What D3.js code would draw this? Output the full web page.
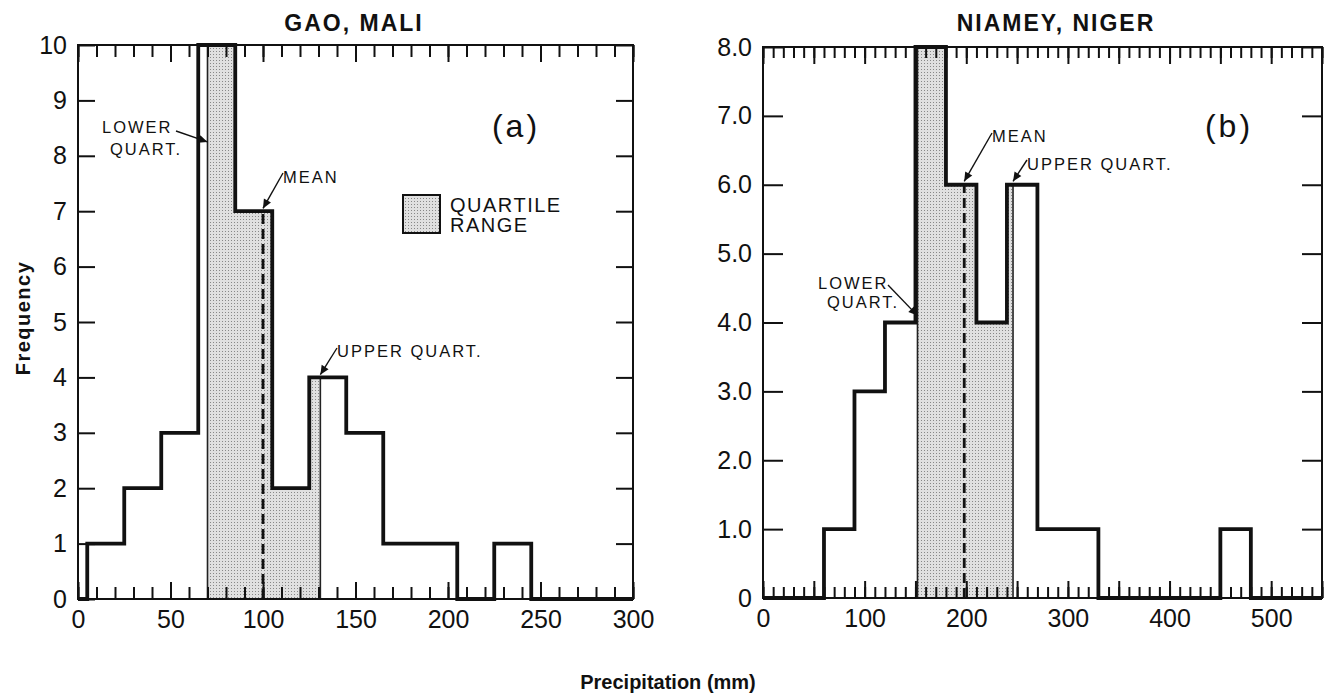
<!DOCTYPE html>
<html><head><meta charset="utf-8">
<script src="https://cdn.jsdelivr.net/npm/d3@7"></script>
<style>body{margin:0;background:#fff}svg{display:block}</style>
</head><body><svg id="chart" width="1327" height="693"></svg>
<script>
// ---- Data: Gao, Mali (panel a) ----
const gaoEdges = [5,25,45,65,85,105,125,145,165,185,205,225,245];
const gaoCounts = [1,2,3,10,7,2,4,3,1,1,0,1];
const gaoQuartiles = [70,131];
const gaoMean = 100;
const gaoYTicks = [0,1,2,3,4,5,6,7,8,9,10];
const gaoXLabels = [0,50,100,150,200,250,300];

// ---- Data: Niamey, Niger (panel b) ----
const niameyEdges = [60,90,120,150,180,210,240,270,300,330,360,390,420,450,480];
const niameyCounts = [1,3,4,8,6,4,6,1,1,0,0,0,0,1];
const niameyQuartiles = [152,246];
const niameyMean = 198;
const niameyYTicks = [0,1,2,3,4,5,6,7,8];
const niameyXLabels = [0,100,200,300,400,500];

const FONT = '"Liberation Sans", Arial, sans-serif';
const svg = d3.select('#chart');
const defs = svg.append('defs');
const pat = defs.append('pattern').attr('id','dots').attr('width',3).attr('height',3).attr('patternUnits','userSpaceOnUse');
pat.append('rect').attr('width',3).attr('height',3).attr('fill','#e0e0e0');
pat.append('rect').attr('width',1).attr('height',1).attr('fill','#888');
defs.append('marker').attr('id','arr').attr('viewBox','0 0 10 10').attr('refX',10).attr('refY',5)
  .attr('markerWidth',13).attr('markerHeight',9).attr('markerUnits','userSpaceOnUse').attr('orient','auto')
  .append('path').attr('d','M0,0.5 L10,5 L0,9.5 z').attr('fill','#111');

function drawPanel(c){
  const x = d3.scaleLinear().domain(c.xDomain).range(c.xRange);
  const y = d3.scaleLinear().domain(c.yDomain).range(c.yRange);
  const g = svg.append('g');
  const f = v => { for(let i=0;i<c.counts.length;i++){ if(v>=c.edges[i] && v<c.edges[i+1]) return c.counts[i]; } return 0; };
  // shaded quartile range
  const [q1,q2] = c.quartiles;
  const sx = [q1, ...c.edges.filter(e=>e>q1 && e<q2), q2];
  const sp = sx.map((v,i)=>[v, i===sx.length-1 ? f(q2-1e-6) : f(v)]);
  g.append('path').attr('d', d3.area().x(d=>x(d[0])).y0(y(0)).y1(d=>y(d[1])).curve(d3.curveStepAfter)(sp))
    .attr('fill','url(#dots)');
  [q1,q2].forEach(q=>{
    g.append('line').attr('x1',x(q)).attr('x2',x(q)).attr('y1',y(0)).attr('y2',y(Math.max(f(q),f(q-1e-6))))
      .attr('stroke','#222').attr('stroke-width',1.6);
  });
  // mean dashed line
  g.append('line').attr('x1',x(c.mean)).attr('x2',x(c.mean)).attr('y1',y(0)).attr('y2',y(f(c.mean)))
    .attr('stroke','#111').attr('stroke-width',2.8).attr('stroke-dasharray','10,5');
  // frame
  g.append('rect').attr('x',c.xRange[0]).attr('y',c.yRange[1]).attr('width',c.xRange[1]-c.xRange[0])
    .attr('height',c.yRange[0]-c.yRange[1]).attr('fill','none').attr('stroke','#111').attr('stroke-width',2);
  // axes ticks
  const minor = d3.range(c.xDomain[0], c.xDomain[1]+0.001, 10);
  const major = d3.range(c.xDomain[0], c.xDomain[1]+0.001, 50);
  const style = sel => { sel.select('.domain').remove(); sel.selectAll('line').attr('stroke','#111').attr('stroke-width',2);
    sel.selectAll('text').attr('font-family',FONT).attr('font-size',25).attr('fill','#111'); };
  g.append('g').attr('transform',`translate(0,${c.yRange[0]})`).call(d3.axisBottom(x).tickValues(minor).tickSize(-c.minorLen).tickFormat('')).call(style);
  g.append('g').attr('transform',`translate(0,${c.yRange[0]})`).call(d3.axisBottom(x).tickValues(major).tickSize(-c.majorLen).tickFormat('')).call(style);
  g.append('g').attr('transform',`translate(0,${c.yRange[0]})`).call(d3.axisBottom(x).tickValues(c.xLabels).tickSize(0).tickPadding(11).tickFormat(d3.format('d'))).call(style);
  g.append('g').attr('transform',`translate(0,${c.yRange[1]})`).call(d3.axisTop(x).tickValues(minor).tickSize(-c.minorLen).tickFormat('')).call(style);
  g.append('g').attr('transform',`translate(0,${c.yRange[1]})`).call(d3.axisTop(x).tickValues(major).tickSize(-c.majorLen).tickFormat('')).call(style);
  g.append('g').attr('transform',`translate(${c.xRange[0]},0)`).call(d3.axisLeft(y).tickValues(c.yTicks).tickSize(-c.yLen).tickPadding(11).tickFormat(c.yFmt)).call(style);
  g.append('g').attr('transform',`translate(${c.xRange[1]},0)`).call(d3.axisRight(y).tickValues(c.yTicks).tickSize(-c.yLen).tickFormat('')).call(style);
  // histogram outline
  const pts = [[c.xDomain[0],0], ...c.edges.map((e,i)=>[e, i<c.counts.length ? c.counts[i] : 0]), [c.xDomain[1],0]];
  g.append('path').attr('d', d3.line().x(d=>x(d[0])).y(d=>y(d[1])).curve(d3.curveStepAfter)(pts))
    .attr('fill','none').attr('stroke','#111').attr('stroke-width',3.8).attr('stroke-linejoin','miter');
  // title and tag
  g.append('text').attr('x',c.titleX).attr('y',31).attr('text-anchor','middle').attr('font-family',FONT)
    .attr('font-weight','bold').attr('font-size',23).attr('letter-spacing',2).attr('fill','#111').text(c.title);
  g.append('text').attr('x',c.tagX).attr('y',137).attr('text-anchor','middle').attr('font-family',FONT)
    .attr('font-size',32).attr('letter-spacing',3).attr('fill','#111').text(c.tag);
  // annotations
  c.notes.forEach(n=>{
    n.lines.forEach((t,i)=>{
      g.append('text').attr('x',n.tx[i]).attr('y',n.ty+i*n.gap).attr('font-family',FONT).attr('font-size',16.5)
        .attr('letter-spacing',2).attr('fill','#111').text(t);
    });
    g.append('line').attr('x1',n.from[0]).attr('y1',n.from[1]).attr('x2',x(n.tip[0])).attr('y2',y(n.tip[1]))
      .attr('stroke','#111').attr('stroke-width',1.4).attr('marker-end','url(#arr)');
  });
  return {x,y,g};
}

drawPanel({
  edges:gaoEdges, counts:gaoCounts, quartiles:gaoQuartiles, mean:gaoMean,
  xDomain:[0,300], yDomain:[0,10], xRange:[78,633], yRange:[599,45],
  yTicks:gaoYTicks, xLabels:gaoXLabels, yFmt:d3.format('d'), yLen:17, minorLen:12, majorLen:17,
  title:'GAO, MALI', titleX:354, tag:'(a)', tagX:516,
  notes:[
    {lines:['LOWER','QUART.'], tx:[102,110], ty:133, gap:22, from:[176,131], tip:[gaoQuartiles[0],8.25]},
    {lines:['MEAN'], tx:[283], ty:183, gap:0, from:[283,173], tip:[gaoMean,7.05]},
    {lines:['UPPER QUART.'], tx:[337], ty:357, gap:0, from:[337,348], tip:[gaoQuartiles[1],4.05]}
  ]
});
drawPanel({
  edges:niameyEdges, counts:niameyCounts, quartiles:niameyQuartiles, mean:niameyMean,
  xDomain:[0,550], yDomain:[0,8], xRange:[763,1322], yRange:[598,47],
  yTicks:niameyYTicks, xLabels:niameyXLabels, yFmt:d=>d===0?'0':d3.format('.1f')(d), yLen:20, minorLen:11, majorLen:17,
  title:'NIAMEY, NIGER', titleX:1056, tag:'(b)', tagX:1229,
  notes:[
    {lines:['LOWER','QUART.'], tx:[818,827], ty:289, gap:19, from:[888,285], tip:[niameyQuartiles[0],4.1]},
    {lines:['MEAN'], tx:[992], ty:142, gap:0, from:[992,133], tip:[niameyMean,6.05]},
    {lines:['UPPER QUART.'], tx:[1027], ty:170, gap:0, from:[1027,160], tip:[niameyQuartiles[1],6.05]}
  ]
});

// legend
const lg = svg.append('g');
lg.append('rect').attr('x',403).attr('y',195).attr('width',37).attr('height',38).attr('fill','url(#dots)')
  .attr('stroke','#111').attr('stroke-width',2);
lg.append('text').attr('x',450).attr('y',212).attr('font-family',FONT).attr('font-size',20).attr('letter-spacing',1.5).attr('fill','#111').text('QUARTILE');
lg.append('text').attr('x',450).attr('y',232).attr('font-family',FONT).attr('font-size',20).attr('letter-spacing',1.5).attr('fill','#111').text('RANGE');

// axis titles
svg.append('text').attr('transform','translate(30,318) rotate(-90)').attr('text-anchor','middle')
  .attr('font-family',FONT).attr('font-weight','bold').attr('font-size',20).attr('letter-spacing',1.5).attr('fill','#111').text('Frequency');
svg.append('text').attr('x',668).attr('y',689).attr('text-anchor','middle')
  .attr('font-family',FONT).attr('font-weight','bold').attr('font-size',20).attr('fill','#111').text('Precipitation (mm)');
</script></body></html>
